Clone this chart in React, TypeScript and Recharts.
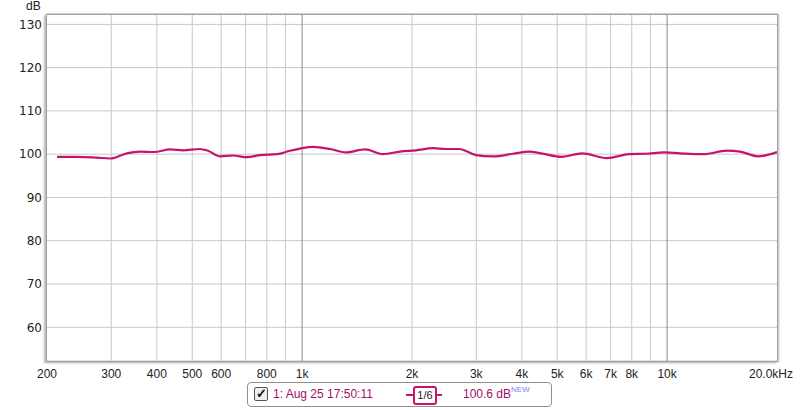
import { LineChart, Line, XAxis, YAxis, CartesianGrid, ReferenceLine } from 'recharts';

const freqs = [213, 242, 274, 298, 331, 360, 393, 435, 472, 525, 552, 596, 647, 706, 767, 854, 926, 987, 1071, 1192, 1319, 1487, 1665, 1854, 2051, 2284, 2478, 2691, 2994, 3334, 3782, 4184, 4513, 5152, 5847, 6843, 7862, 8750, 9804, 10844, 12540, 14590, 15835, 17744, 20000];
const levels = [99.4, 99.4, 99.2, 99.0, 100.2, 100.6, 100.5, 101.1, 100.9, 101.2, 100.8, 99.5, 99.7, 99.3, 99.8, 100.0, 100.8, 101.3, 101.7, 101.2, 100.4, 101.1, 100.0, 100.6, 100.9, 101.4, 101.2, 101.2, 99.8, 99.5, 100.1, 100.6, 100.2, 99.4, 100.2, 99.1, 100.0, 100.1, 100.4, 100.2, 100.0, 100.8, 100.6, 99.5, 100.5];

const xTicks = [200, 300, 400, 500, 600, 800, 1000, 2000, 3000, 4000, 5000, 6000, 7000, 8000, 10000, 20000];
const minorGrid = [300, 400, 500, 600, 700, 800, 900, 2000, 3000, 4000, 5000, 6000, 7000, 8000, 9000];
const majorGrid = [1000, 10000];
const yTicks = [60, 70, 80, 90, 100, 110, 120, 130];

const data = freqs.map((f, i) => ({ f, db: levels[i] }));

const fmtFreq = (v: number) => {
  if (v >= 20000) return '20.0kHz';
  if (v >= 1000) return v / 1000 + 'k';
  return String(v);
};

const XTick = (props: any) => {
  const { x, y, payload } = props;
  const last = payload.value >= 20000;
  return (
    <text x={last ? x + 16 : x} y={y} dy="0.71em" textAnchor={last ? 'end' : 'middle'} fill="#222" fontSize={12} fontFamily="Liberation Sans, Arial, sans-serif">
      {fmtFreq(payload.value)}
    </text>
  );
};

const LINE = '#c8126e';

export default function App() {
  return (
    <div style={{ position: 'absolute', left: 0, top: 0, width: 800, height: 410, background: '#fff', fontFamily: 'Liberation Sans, Arial, sans-serif' }}>
      <div style={{ position: 'absolute', left: 26, top: -1, fontSize: 12, color: '#222' }}>dB</div>
      <LineChart width={800} height={410} data={data} margin={{ top: 14, right: 23, left: 0, bottom: 29 }}>
        <CartesianGrid vertical={false} stroke="#c8c8c8" />
        {minorGrid.map((g) => (
          <ReferenceLine key={g} x={g} stroke="#c8c8c8" />
        ))}
        {majorGrid.map((g) => (
          <ReferenceLine key={g} x={g} stroke="#8c8c8c" />
        ))}
        <XAxis
          dataKey="f"
          type="number"
          scale="log"
          domain={[200, 20000]}
          ticks={xTicks}
          interval={0}
          allowDataOverflow
          axisLine={false}
          tickLine={false}
          tickSize={0}
          tickMargin={8}
          height={20}
          tick={<XTick />}
        />
        <YAxis
          type="number"
          domain={[52.2, 132.4]}
          ticks={yTicks}
          interval={0}
          allowDataOverflow
          axisLine={false}
          tickLine={false}
          tickSize={0}
          tickMargin={5}
          width={47}
          tick={{ fill: '#222', fontSize: 12, fontFamily: 'DejaVu Sans, sans-serif' }}
        />
        <Line type="monotone" dataKey="db" stroke={LINE} strokeWidth={2.2} dot={false} isAnimationActive={false} />
      </LineChart>
      <div style={{ position: 'absolute', left: 46, top: 14, width: 730, height: 346, border: '1px solid #a0a0a0', boxShadow: '-2px 1px 2px #b8b8b8, 1px 0 2px #b8b8b8', pointerEvents: 'none' }} />
      <div style={{ position: 'absolute', left: 247, top: 382, width: 303, height: 23, border: '1px solid #909090', borderRadius: 4, fontSize: 12, color: '#a0106a' }}>
        <div style={{ position: 'absolute', left: 6, top: 4, width: 12, height: 12, border: '1px solid #555', borderRadius: 2, background: '#eee', fontSize: 13, fontWeight: 'bold', lineHeight: '12px', color: '#111', textAlign: 'center' }}>✓</div>
        <div style={{ position: 'absolute', left: 25, top: 4 }}>1: Aug 25 17:50:11</div>
        <div style={{ position: 'absolute', left: 158, top: 11, width: 36, height: 2, background: LINE }} />
        <div style={{ position: 'absolute', left: 165, top: 3, width: 20, height: 15, border: `2px solid ${LINE}`, borderRadius: 3, background: '#fff', color: '#222', fontSize: 11, lineHeight: '15px', textAlign: 'center' }}>1/6</div>
        <div style={{ position: 'absolute', left: 215, top: 4 }}>
          100.6 dB<sup style={{ fontSize: 8, color: '#8080f0', verticalAlign: 'top', position: 'relative', top: -2 }}>NEW</sup>
        </div>
      </div>
    </div>
  );
}
